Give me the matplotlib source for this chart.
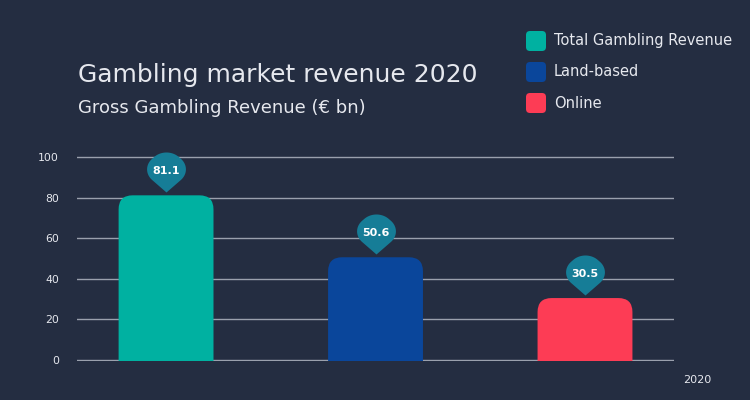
import numpy as np
import matplotlib.pyplot as plt
from matplotlib.patches import FancyBboxPatch
from matplotlib.path import Path

# data
categories = ['Total Gambling Revenue', 'Land-based', 'Online']
revenue = [81.1, 50.6, 30.5]
yticks = [0, 20, 40, 60, 80, 100]
year_label = '2020'

# style
bg = '#242d41'
bar_colors = ['#00b1a1', '#0a469b', '#fd3c55']
pin_color = '#167d97'
grid_color = '#9aa0ad'
text_color = '#e6e8ee'


def pin_marker(r=0.65, sx=1.15):
    # diamond with 3 rounded corners -> map pin, tip at the origin
    corners = [(0, -1), (1, 0), (0, 1), (-1, 0)]
    pts = [np.array([0.0, -1.0])]
    for i in (1, 2, 3):
        v = np.array(corners[i], float)
        p = np.array(corners[i - 1], float)
        n = np.array(corners[(i + 1) % 4], float)
        t1 = v + r * (p - v) / np.linalg.norm(p - v)
        t2 = v + r * (n - v) / np.linalg.norm(n - v)
        c = v + r * np.sqrt(2) * (-v) / np.linalg.norm(v)
        a1 = np.arctan2(*(t1 - c)[::-1])
        a2 = np.arctan2(*(t2 - c)[::-1])
        if a2 < a1:
            a2 += 2 * np.pi
        for a in np.linspace(a1, a2, 20):
            pts.append(c + r * np.array([np.cos(a), np.sin(a)]))
    pts.append(np.array([0.0, -1.0]))
    pts = np.array(pts)
    pts[:, 0] *= sx
    pts[:, 1] += 1.0
    return Path(pts, closed=True)


fig = plt.figure(figsize=(7.5, 4), dpi=100, facecolor=bg)
ax = fig.add_axes([0.1027, 0.0975, 0.796, 0.5355])
ax.set_facecolor(bg)

x = np.arange(len(categories))
bars = ax.bar(x, revenue, width=0.453, color=bar_colors, zorder=2)
ax.set_xlim(-0.425, 2.425)
ax.set_ylim(-0.5, 105)

# rounded top corners
for b in bars:
    b.set_visible(False)
    rb = FancyBboxPatch((b.get_x(), -10), b.get_width(), b.get_height() + 10,
                        boxstyle='round,pad=0,rounding_size=0.067',
                        mutation_aspect=103, fc=b.get_facecolor(), ec='none',
                        zorder=2)
    rb.set_clip_box(ax.bbox)
    ax.add_patch(rb)

ax.set_yticks(yticks)
ax.set_xticks([])
ax.tick_params(axis='y', length=0, pad=13, labelsize=7.8, labelcolor=text_color)
for s in ax.spines.values():
    s.set_visible(False)
ax.yaxis.grid(True, color=grid_color, lw=1)
ax.set_axisbelow(True)

# value pins
tops = np.array(revenue) + 1.5
ax.plot(x, tops, ls='none', marker=pin_marker(), ms=57.6, color=pin_color,
        mew=0, clip_on=False, zorder=3)
for xi, yi, v in zip(x, tops, revenue):
    ax.annotate(f'{v:.1f}', (xi, yi), xytext=(0, 15), textcoords='offset points',
                ha='center', va='center', fontsize=8, fontweight='bold',
                color='white', zorder=4)

# titles
fig.text(78 / 750, 1 - 82 / 400, 'Gambling market revenue 2020', fontsize=18,
         va='baseline', color=text_color)
fig.text(78 / 750, 1 - 113 / 400, 'Gross Gambling Revenue (€ bn)', fontsize=13,
         va='baseline', color=text_color)
fig.text(697 / 750, 1 - 380 / 400, year_label, ha='center', va='center',
         fontsize=8, color=text_color)

# legend
for i, (name, col) in enumerate(zip(categories, bar_colors)):
    yc = 41 + i * 31
    sq = FancyBboxPatch((5.26, (400 - yc - 10) / 100), 0.2, 0.2,
                        boxstyle='round,pad=0,rounding_size=0.04',
                        fc=col, ec='none', transform=fig.dpi_scale_trans)
    fig.patches.append(sq)
    fig.text(554 / 750, 1 - yc / 400, name, va='center', fontsize=10.5,
             color=text_color)

fig.savefig('out.png', dpi=100, facecolor=bg)
